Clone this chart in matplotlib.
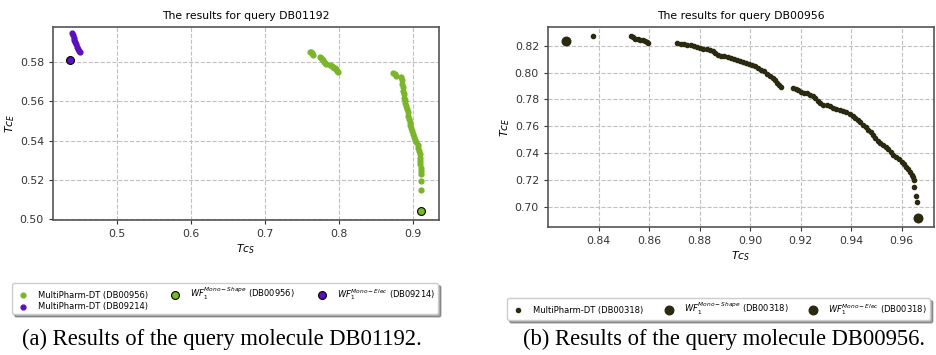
import matplotlib
matplotlib.use("Agg")
import matplotlib.pyplot as plt
import numpy as np

# (a) query DB01192
a_mp956_x = [0.7606, 0.7621, 0.7636, 0.7651, 0.7740, 0.7754, 0.7770, 0.7785, 0.7800, 0.7815,
             0.7831, 0.7880, 0.7900, 0.7915, 0.7930, 0.7945, 0.7960, 0.7975, 0.7990,
             0.8735, 0.8750, 0.8765,
             0.8842, 0.8846, 0.8852, 0.8858, 0.8866, 0.8872, 0.8880, 0.8888, 0.8897, 0.8905,
             0.8915, 0.8925, 0.8933, 0.8942, 0.8952, 0.8962, 0.8972, 0.8983, 0.8995, 0.9008,
             0.9025, 0.9045, 0.9060, 0.9072, 0.9082, 0.9090, 0.9095, 0.9098, 0.9100, 0.9102,
             0.9104, 0.9106, 0.9110, 0.9112]
a_mp956_y = [0.5853, 0.5850, 0.5845, 0.5836, 0.5828, 0.5822, 0.5815, 0.5810, 0.5803, 0.5797,
             0.5793, 0.5787, 0.5783, 0.5778, 0.5773, 0.5769, 0.5764, 0.5757, 0.5750,
             0.5746, 0.5738, 0.5728,
             0.5725, 0.5708, 0.5690, 0.5672, 0.5655, 0.5638, 0.5620, 0.5605, 0.5590, 0.5575,
             0.5560, 0.5545, 0.5528, 0.5512, 0.5497, 0.5480, 0.5463, 0.5447, 0.5432, 0.5418,
             0.5405, 0.5395, 0.5380, 0.5365, 0.5348, 0.5330, 0.5312, 0.5295, 0.5280, 0.5262,
             0.5245, 0.5232, 0.5195, 0.5150]
a_mp9214_x = [0.4402, 0.4411, 0.4420, 0.4430, 0.4440, 0.4450, 0.4462, 0.4475, 0.4488, 0.4500]
a_mp9214_y = [0.5948, 0.5937, 0.5926, 0.5915, 0.5904, 0.5893, 0.5880, 0.5868, 0.5858, 0.5852]
a_shape = (0.9112, 0.5039)
a_elec = (0.4370, 0.5812)

# (b) query DB00956
b_mp_x = [0.8378,
          0.8527, 0.8535, 0.8545, 0.8555, 0.8565, 0.8575, 0.8585, 0.8592, 0.8596,
          0.8712, 0.8725, 0.8738, 0.8752, 0.8765, 0.8778, 0.8790, 0.8803, 0.8815, 0.8828,
          0.8840, 0.8852, 0.8862, 0.8872, 0.8885, 0.8898, 0.8911, 0.8924, 0.8936, 0.8948,
          0.8960, 0.8972, 0.8985, 0.8997, 0.9009, 0.9021, 0.9033, 0.9045, 0.9057, 0.9068,
          0.9079, 0.9089, 0.9099, 0.9108, 0.9116, 0.9123,
          0.9170, 0.9180, 0.9190, 0.9200, 0.9212, 0.9224, 0.9236, 0.9248, 0.9258, 0.9268,
          0.9278, 0.9290, 0.9303, 0.9316, 0.9329, 0.9342, 0.9355, 0.9368, 0.9381, 0.9394,
          0.9406, 0.9417, 0.9427, 0.9437, 0.9447, 0.9458, 0.9468, 0.9477, 0.9486, 0.9495,
          0.9505, 0.9515, 0.9526, 0.9537, 0.9547, 0.9557, 0.9567, 0.9578, 0.9589, 0.9600,
          0.9610, 0.9619, 0.9627, 0.9634, 0.9640, 0.9645, 0.9648,
          0.9650, 0.9655, 0.9660]
b_mp_y = [0.8275,
          0.8272, 0.8262, 0.8252, 0.8246, 0.8244, 0.8241, 0.8236, 0.8228, 0.8218,
          0.8217, 0.8216, 0.8213, 0.8208, 0.8203, 0.8197, 0.8190, 0.8184, 0.8178, 0.8174,
          0.8169, 0.8160, 0.8145, 0.8132, 0.8125, 0.8122, 0.8118, 0.8112, 0.8104, 0.8096,
          0.8088, 0.8081, 0.8073, 0.8065, 0.8056, 0.8046, 0.8035, 0.8022, 0.8008, 0.7993,
          0.7977, 0.7960, 0.7943, 0.7925, 0.7907, 0.7890,
          0.7888, 0.7878, 0.7868, 0.7857, 0.7850, 0.7845, 0.7835, 0.7822, 0.7808, 0.7792,
          0.7773, 0.7760, 0.7756, 0.7750, 0.7740, 0.7728, 0.7718, 0.7711, 0.7703, 0.7693,
          0.7680, 0.7665, 0.7648, 0.7630, 0.7610, 0.7592, 0.7575, 0.7555, 0.7532, 0.7510,
          0.7492, 0.7477, 0.7463, 0.7446, 0.7428, 0.7409, 0.7390, 0.7372, 0.7355, 0.7338,
          0.7320, 0.7300, 0.7280, 0.7260, 0.7240, 0.7222, 0.7200,
          0.7148, 0.7082, 0.7040]
b_shape = (0.9663, 0.6921)
b_elec = (0.8270, 0.8232)

green = "#7ab52a"
purple = "#5c0fbd"
dark = "#2b2a10"
fs = 7.8

fig = plt.figure(figsize=(9.37, 3.55), dpi=100)
ax1 = fig.add_axes([53/937, 1-220/355, 386/937, 193/355])
ax2 = fig.add_axes([548/937, 1-227/355, 386/937, 200/355])

for ax in (ax1, ax2):
    ax.grid(True, linestyle="--", color="#c0c0c0", linewidth=0.8)
    ax.set_axisbelow(True)
    for s in ax.spines.values():
        s.set_color("#555555")
        s.set_linewidth(1.2)
    ax.tick_params(labelsize=fs, colors="#333333", length=3)
    ax.set_xlabel(r"$Tc_S$", fontsize=fs, labelpad=2)
    ax.set_ylabel(r"$Tc_E$", fontsize=fs, labelpad=2)

# left panel
h1 = ax1.scatter(a_mp956_x, a_mp956_y, s=12, color=green, label="MultiPharm-DT (DB00956)")
h2 = ax1.scatter(a_mp9214_x, a_mp9214_y, s=12, color=purple, label="MultiPharm-DT (DB09214)")
h3 = ax1.scatter(*a_shape, s=32, color=green, edgecolors="black", linewidths=0.8,
                 label=r"$WF_1^{Mono-Shape}$ (DB00956)")
h4 = ax1.scatter(*a_elec, s=32, color=purple, edgecolors="black", linewidths=0.8,
                 label=r"$WF_1^{Mono-Elec}$ (DB09214)")
ax1.set_xlim(0.414, 0.935)
ax1.set_ylim(0.4995, 0.598)
ax1.set_xticks([0.5, 0.6, 0.7, 0.8, 0.9])
ax1.set_yticks([0.50, 0.52, 0.54, 0.56, 0.58])
ax1.set_title("The results for query DB01192", fontsize=fs)

# right panel
g1 = ax2.scatter(b_mp_x, b_mp_y, s=9, color=dark, label="MultiPharm-DT (DB00318)")
g2 = ax2.scatter(*b_shape, s=38, color=dark, label=r"$WF_1^{Mono-Shape}$ (DB00318)")
g3 = ax2.scatter(*b_elec, s=38, color=dark, label=r"$WF_1^{Mono-Elec}$ (DB00318)")
ax2.set_xlim(0.820, 0.9728)
ax2.set_ylim(0.6851, 0.8339)
ax2.set_xticks([0.84, 0.86, 0.88, 0.90, 0.92, 0.94, 0.96])
ax2.set_yticks([0.70, 0.72, 0.74, 0.76, 0.78, 0.80, 0.82])
ax2.set_title("The results for query DB00956", fontsize=fs)

fig.legend(handles=[h1, h2, h3, h4], loc="upper left", bbox_to_anchor=(12/937, 1-283/355),
           ncol=3, fontsize=6.0, shadow=True, borderaxespad=0, columnspacing=2.2,
           borderpad=0.35, labelspacing=0.3)
fig.legend(handles=[g1, g2, g3], loc="upper left", bbox_to_anchor=(507/937, 1-298/355),
           ncol=3, fontsize=6.0, shadow=True, borderaxespad=0, columnspacing=2.0,
           borderpad=0.35)

fig.text(222/937, 1-339/355, "(a) Results of the query molecule DB01192.",
         family="Liberation Serif", fontsize=16.3, ha="center", va="center")
fig.text(724/937, 1-339/355, "(b) Results of the query molecule DB00956.",
         family="Liberation Serif", fontsize=16.3, ha="center", va="center")

fig.savefig("out.png", dpi=100)
